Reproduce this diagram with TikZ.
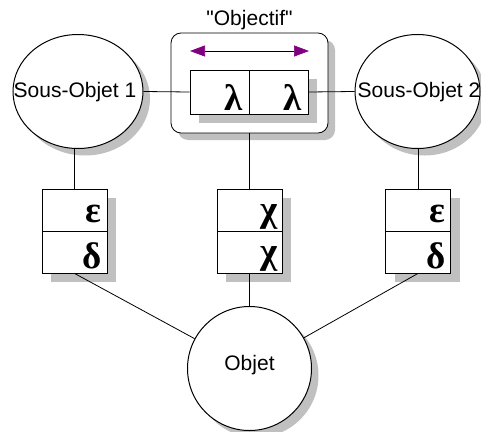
\documentclass[tikz,border=0pt]{standalone}
\usepackage{fontspec}
\setmainfont{Liberation Sans}[Ligatures=TeXOff]
\newfontfamily\grk{Liberation Serif}
\usetikzlibrary{arrows.meta,shapes.geometric}
\definecolor{arrowpurple}{RGB}{128,0,128}
\definecolor{shadowgray}{RGB}{192,192,192}
\begin{document}
\begin{tikzpicture}[x=1pt,y=-1pt,line width=0.8pt,
  shadowfill/.style={fill=shadowgray},
  lbl/.style={font=\fontsize{21}{24}\selectfont, inner sep=0},
  greek/.style={font=\grk\bfseries\fontsize{37}{40}\selectfont, inner sep=0, anchor=base east},
  cell/.style={draw, fill=white, minimum width=65pt, minimum height=42pt, inner sep=0},
  lcell/.style={draw, fill=white, minimum width=59pt, minimum height=44pt, inner sep=0},
  oval/.style={draw, fill=white, ellipse, inner sep=0, line width=1pt}]
\useasboundingbox (0,0) rectangle (481,431);
% shadows of the sub-objects
\path[shadowfill] (85,98.5) ellipse [x radius=65, y radius=57];
\path[shadowfill] (424.5,98.5) ellipse [x radius=62.5, y radius=57];
% sub-objects
\node[oval, minimum width=130pt, minimum height=114pt] (so1) at (78,91.5) {};
\node[lbl] (so1t) at (75,92) {Sous-Objet 1};
\node[oval, minimum width=125pt, minimum height=114pt] (so2) at (417.5,91.5) {};
\node[lbl] (so2t) at (419,92) {Sous-Objet 2};
% objectif
\node[lbl] (title) at (249.5,20) {"Objectif"};
\path[shadowfill, rounded corners=10pt] (178,40) rectangle (335,140);
\node[draw, fill=white, rounded corners=10pt, minimum width=157pt, minimum height=100pt, inner sep=0] (obj) at (249.5,83) {};
\path[shadowfill] (199,79) rectangle (317,123);
\node[lcell] (lam1) at (219.5,92) {};
\node[lcell] (lam2) at (278.5,92) {};
\node[greek] (l1) at (243,110) {λ};
\node[greek] (l2) at (302,110) {λ};
\coordinate (aL) at (190,51);
\coordinate (aR) at (309,51);
\draw[line width=0.7pt, {Triangle[length=15pt,width=11pt,color=arrowpurple]}-{Triangle[length=15pt,width=11pt,color=arrowpurple]}] (aL) -- (aR);
% stacks
\path[shadowfill] (51,198) rectangle (116,282);
\path[shadowfill] (226,198) rectangle (291,282);
\path[shadowfill] (394.5,198) rectangle (459.5,282);
\node[cell] (e1) at (74.5,210) {};
\node[cell] (d1) at (74.5,252) {};
\node[cell] (c1) at (249.5,210) {};
\node[cell] (c2) at (249.5,252) {};
\node[cell] (e2) at (418,210) {};
\node[cell] (d2) at (418,252) {};
\node[greek] (ge1) at (446,222) {ε};
\node[greek] (gd1) at (446,268) {δ};
\node[greek] (ge0) at (102,222) {ε};
\node[greek] (gd0) at (102,268) {δ};
\node[greek] (gc1) at (278,221) {χ};
\node[greek] (gc2) at (278,263) {χ};
% objet
\path[shadowfill] (256.5,375.5) circle [radius=62];
\node[oval, circle, minimum size=124pt] (objet) at (249.5,368.5) {};
\node[lbl] (objett) at (249.5,365) {Objet};
% connectors
\draw (so1.east) -- (lam1.west);
\draw (lam2.east) -- (so2.west);
\draw (e1.north) -- (e1.north |- so1.south);
\draw (e2.north) -- (e2.north |- so2.south);
\draw (obj.south) -- (c1.north);
\draw (c2.south) -- (objet.north);
\draw (d1.south) -- (objet);
\draw (d2.south) -- (objet);
\end{tikzpicture}
\end{document}
